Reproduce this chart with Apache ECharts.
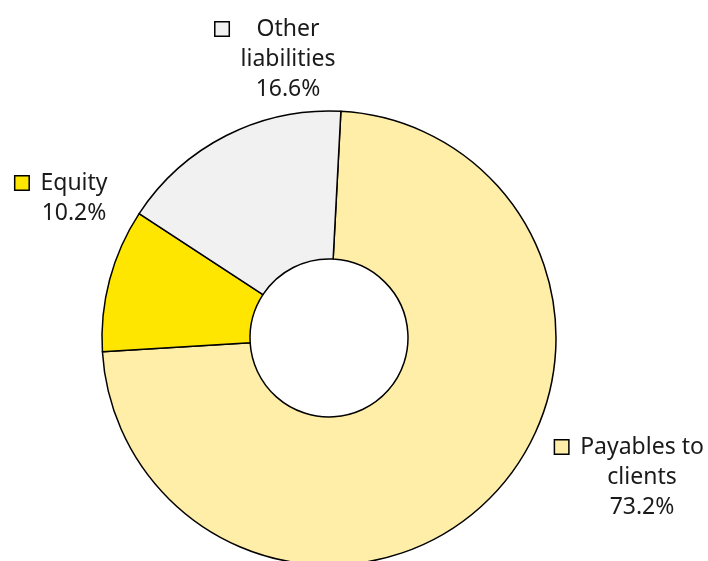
<!DOCTYPE html>
<html>
<head>
<meta charset="utf-8">
<script src="https://cdn.jsdelivr.net/npm/echarts@6/dist/echarts.min.js"></script>
<style>
  html, body { margin: 0; padding: 0; background: #ffffff; }
  #chart { width: 708px; height: 561px; }
</style>
</head>
<body>
<div id="chart"></div>
<script>
// Balance sheet liabilities split
const categories = ['Payables to clients', 'Equity', 'Other liabilities'];
const shares = [73.2, 10.2, 16.6];
const labelLines = [['Payables to', 'clients'], ['Equity'], ['Other', 'liabilities']];

const colors = ['#FFEEA8', '#FFE600', '#F1F1F1'];
// label block centres (px)
const labelCentres = [[642, 477], [74, 198], [288, 59]];

const FONT = '"Noto Sans", Lato, sans-serif';

function buildLabel(i) {
  const lines = labelLines[i].concat([shares[i].toFixed(1) + '%']);
  return lines.map(function (txt, k) {
    const left = k === 0 ? '{m' + i + '|}{g|}' : '{spl|}';
    return left + '{t|' + txt + '}{spr|}';
  }).join('\n');
}

const rich = {
  t: { fontSize: 23, lineHeight: 30, color: '#1a1a1a', fontFamily: FONT },
  g: { width: 12, align: 'left' },
  spl: { width: 25, align: 'left' },
  spr: { width: 25, align: 'right' }
};
colors.forEach(function (c, i) {
  rich['m' + i] = {
    width: 13, height: 13, align: 'left',
    backgroundColor: c, borderColor: '#000000', borderWidth: 1.5
  };
});

const chart = echarts.init(document.getElementById('chart'), null, { renderer: 'canvas' });
chart.setOption({
  animation: false,
  backgroundColor: '#ffffff',
  series: [{
    type: 'pie',
    center: [329, 338],
    radius: [79, 227],
    startAngle: 87,
    clockwise: true,
    avoidLabelOverlap: false,
    itemStyle: { borderColor: '#000000', borderWidth: 1.5 },
    label: {
      show: true,
      position: 'outside',
      formatter: function (p) { return buildLabel(p.dataIndex); },
      rich: rich,
      align: 'center'
    },
    labelLine: { show: false },
    labelLayout: function (p) {
      const c = labelCentres[p.dataIndex];
      return { x: c[0], y: c[1], align: 'center', verticalAlign: 'middle' };
    },
    emphasis: { disabled: true },
    data: categories.map(function (name, i) {
      return { name: name, value: shares[i], itemStyle: { color: colors[i] } };
    })
  }]
});
</script>
</body>
</html>
